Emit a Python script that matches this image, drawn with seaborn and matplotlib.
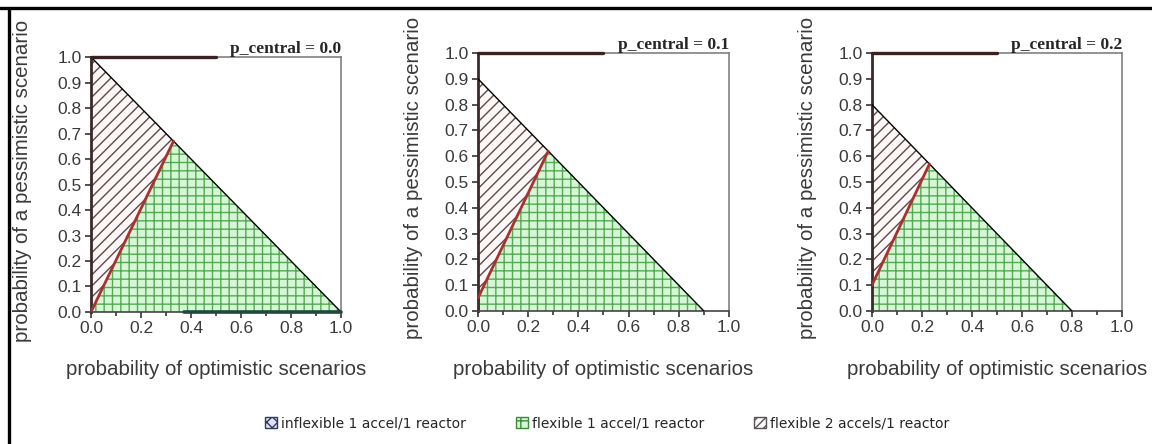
import numpy as np
import matplotlib
matplotlib.use("Agg")
import matplotlib.pyplot as plt
from matplotlib.patches import Patch
from matplotlib.lines import Line2D
import seaborn as sns

# values
p_central = [0.0, 0.1, 0.2]
simplex_edge = [1.0, 0.9, 0.8]      # where x + y = 1 - p_central hits the axes
split_y0 = [0.0, 0.05, 0.10]        # red boundary start on the y axis
split_x1 = [0.33, 0.28, 0.23]       # red boundary end on the diagonal
split_y1 = [0.67, 0.62, 0.57]
inflex_x0 = [0.37, np.nan, np.nan]  # degenerate inflexible strip along y = 0

legend_labels = ["inflexible 1 accel/1 reactor",
                 "flexible 1 accel/1 reactor",
                 "flexible 2 accels/1 reactor"]
x_ticks = [0.0, 0.2, 0.4, 0.6, 0.8, 1.0]
y_ticks = [0.0, 0.1, 0.2, 0.3, 0.4, 0.5, 0.6, 0.7, 0.8, 0.9, 1.0]

sns.set_style("ticks")
plt.rcParams["font.family"] = ["Liberation Sans", "DejaVu Sans"]
plt.rcParams["hatch.linewidth"] = 1.0

GREEN_FILL = "#d6f7d6"
GREEN_HATCH = "#55aa55"
PINK_FILL = "#fdf7f7"
DIAG_HATCH = "#5e4a4a"
RED = "#a83232"

fig = plt.figure(figsize=(11.52, 4.44), dpi=100)

# axes boxes in figure fractions
boxes = [(0.0790, 0.2973, 0.2170, 0.5743),
         (0.4149, 0.2995, 0.2179, 0.5811),
         (0.7569, 0.2995, 0.2170, 0.5811)]
ylabel_x = [-0.276, -0.255, -0.256]

for i, box in enumerate(boxes):
    ax = fig.add_axes(box)
    e = simplex_edge[i]

    # flexible 1 accel region (green grid)
    ax.fill([0, 0, split_x1[i], e], [0, split_y0[i], split_y1[i], 0],
            facecolor=GREEN_FILL, edgecolor=GREEN_HATCH, hatch="++", lw=0, zorder=1)
    # flexible 2 accels region (diagonal hatch)
    ax.fill([0, 0, split_x1[i]], [split_y0[i], e, split_y1[i]],
            facecolor=PINK_FILL, edgecolor=DIAG_HATCH, hatch="///", lw=0, zorder=1)

    # boundaries
    sns.lineplot(x=[0, e], y=[e, 0], ax=ax, color="black", lw=1.0,
                 estimator=None, zorder=3)
    sns.lineplot(x=[0, split_x1[i]], y=[split_y0[i], split_y1[i]], ax=ax,
                 color=RED, lw=2.0, estimator=None, zorder=4)
    if not np.isnan(inflex_x0[i]):
        ax.plot([inflex_x0[i], 1.0], [0, 0], color="#1d4a3c", lw=2.6,
                zorder=5, clip_on=False)

    # thick top-left frame piece as in the original
    ax.plot([0, 0.5], [1, 1], color="#3a2020", lw=2.4, zorder=5, clip_on=False)

    ax.set_xlim(0, 1)
    ax.set_ylim(0, 1)
    ax.set_xticks(x_ticks)
    ax.set_xticks(np.arange(0.1, 1.0, 0.2), minor=True)
    ax.set_yticks(y_ticks)
    ax.set_xticklabels([f"{t:.1f}" for t in x_ticks])
    ax.set_yticklabels([f"{t:.1f}" for t in y_ticks])
    ax.tick_params(axis="both", which="major", direction="out", length=4.5,
                   width=1.2, color="#333333", labelsize=12.5, labelcolor="#3a3a3a",
                   pad=2)
    ax.tick_params(axis="x", which="minor", direction="out", length=3,
                   width=1.2, color="#333333")

    for side in ["top", "right", "bottom"]:
        ax.spines[side].set_visible(True)
        ax.spines[side].set_color("#808080")
        ax.spines[side].set_linewidth(1.2)
    ax.spines["bottom"].set_color("#444444")
    ax.spines["left"].set_color("#3a2a2a")
    ax.spines["left"].set_linewidth(2.0)

    ax.set_xlabel("probability of optimistic scenarios", fontsize=14.8, color="#3a3a3a")
    ax.xaxis.set_label_coords(0.5, -0.225)
    ax.xaxis.label.set_va("center")
    ax.set_ylabel("probability of a pessimistic scenario", fontsize=14.8, color="#3a3a3a")
    ax.yaxis.set_label_coords(ylabel_x[i], 0.515)
    ax.yaxis.label.set_va("center")

    ax.set_title(f"p_central = {p_central[i]:.1f}", loc="right", pad=3,
                 fontsize=12.5, fontweight="bold",
                 family=["Liberation Serif", "DejaVu Serif"])

# outer frame lines (top and left)
fig.add_artist(Line2D([0, 1], [0.983, 0.983], transform=fig.transFigure,
                      color="black", lw=2.4))
fig.add_artist(Line2D([0.0082, 0.0082], [0, 0.983], transform=fig.transFigure,
                      color="black", lw=2.4))

handles = [Patch(facecolor="#dde3f0", edgecolor="#303a60", hatch="xxx", lw=1),
           Patch(facecolor=GREEN_FILL, edgecolor="#3c8a3c", hatch="++", lw=1),
           Patch(facecolor=PINK_FILL, edgecolor="#555555", hatch="////", lw=1)]
fig.legend(handles, legend_labels, loc="center", bbox_to_anchor=(0.527, 0.047),
           ncol=3, frameon=False, handlelength=0.85, handleheight=0.85,
           handletextpad=0.3, columnspacing=3.6,
           prop={"family": ["DejaVu Sans"], "size": 10})

fig.savefig("out.png", dpi=100)
